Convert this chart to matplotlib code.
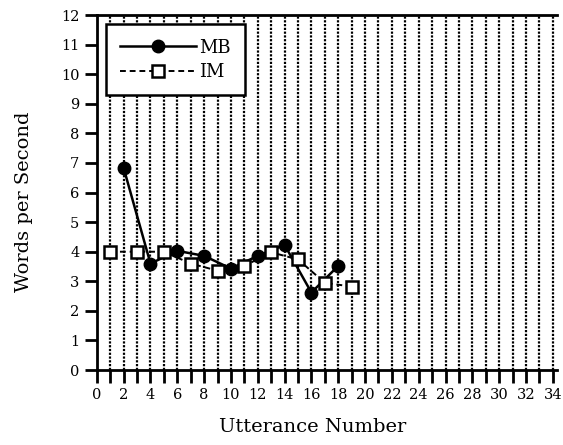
import numpy as np
import matplotlib.pyplot as plt

# values
mb_x = [2, 4, 6, 8, 10, 12, 14, 16, 18]
mb_y = [6.83, 3.6, 4.03, 3.86, 3.43, 3.86, 4.23, 2.62, 3.52]
im_x = [1, 3, 5, 7, 9, 11, 13, 15, 17, 19]
im_y = [4.0, 4.0, 4.0, 3.6, 3.36, 3.52, 3.98, 3.74, 2.95, 2.82]

x_ticks = list(range(0, 35, 2))
y_ticks = list(range(0, 13))

plt.rcParams['font.family'] = ['DejaVu Serif']

fig = plt.figure(figsize=(5.63, 4.45), dpi=100)
ax = fig.add_axes([0.172, 0.1685, 0.817, 0.7975])

for g in range(1, 35):
    ax.axvline(g, color='black', lw=1.6, ls=(0, (1, 0.7)), zorder=1)

ax.plot(mb_x, mb_y, '-o', color='black', lw=1.8, ms=9, label='MB', zorder=3)
ax.plot(im_x, im_y, '--s', color='black', lw=1.4, ms=8.5, mfc='white', mew=1.8,
        dashes=(3, 2), label='IM', zorder=4)

ax.set_xlim(0, 34.3)
ax.set_ylim(0, 12)
ax.set_xticks(x_ticks)
ax.set_xticks(range(0, 35), minor=True)
ax.set_yticks(y_ticks)

for s in ['left', 'bottom', 'top']:
    ax.spines[s].set_linewidth(2)
ax.spines['right'].set_visible(False)

ax.tick_params(axis='both', direction='out', width=2, length=9, labelsize=10.5)
ax.tick_params(axis='x', which='minor', direction='out', width=2, length=9)
ax.tick_params(axis='x', pad=4)

ax.set_xlabel('Utterance Number', fontsize=14)
ax.set_ylabel('Words per Second', fontsize=14)
ax.xaxis.set_label_coords(0.47, -0.135)
ax.yaxis.set_label_coords(-0.139, 0.475)

leg = ax.legend(loc='upper left', bbox_to_anchor=(0.0, 1.0), handlelength=4.2,
                fancybox=False, framealpha=1, edgecolor='black', fontsize=13,
                borderpad=0.8, labelspacing=0.35, handletextpad=0.15)
leg.get_frame().set_linewidth(1.8)
leg.set_zorder(5)

fig.savefig('out.png', dpi=100)
